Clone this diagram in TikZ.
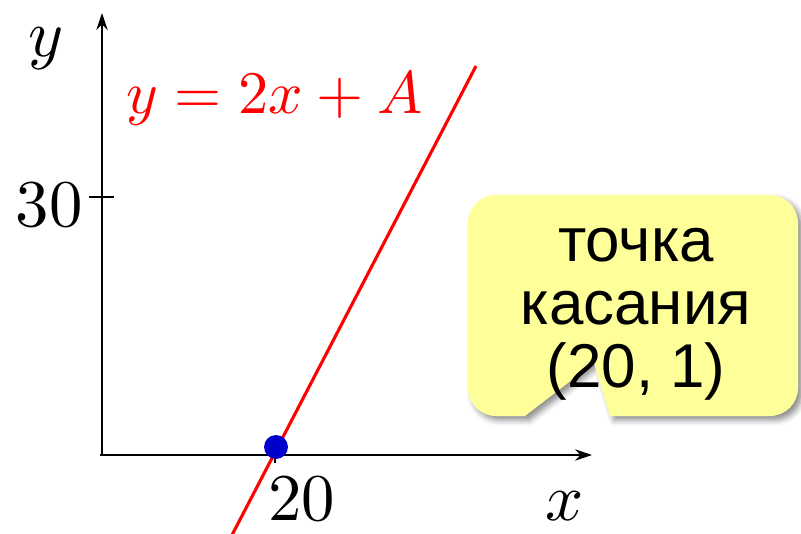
\documentclass[tikz,border=0pt]{standalone}
\usepackage{graphicx}
\usepackage{fontspec}
\newfontfamily\calloutfont{Liberation Sans}
\usetikzlibrary{arrows.meta,shadows.blur}
\definecolor{bubbleyellow}{RGB}{255,255,153}
\definecolor{dotblue}{RGB}{0,0,204}
\newcommand{\biglbl}[1]{\scalebox{4.75}{$#1$}}
\newcommand{\eqlbltext}[1]{\scalebox{4.3}{$#1$}}
\tikzset{
  axis/.style={line width=1.4pt,-{Stealth[length=12pt,width=8pt]}},
  tick/.style={line width=1.4pt},
  mathlbl/.style={inner sep=0pt},
  eqlbl/.style={inner sep=0pt,text=red},
  bubble/.style={fill=bubbleyellow,draw=none,
    blur shadow={shadow xshift=3pt,shadow yshift=-3pt,shadow blur radius=4pt,shadow opacity=45}},
  bubbletext/.style={inner sep=0pt,font=\calloutfont\fontsize{44}{48}\selectfont},
}
\begin{document}
\begin{tikzpicture}[x=0.025cm,y=0.025cm]
\useasboundingbox (0,0) rectangle (801,533);
% axes
\coordinate (o) at (102,78);
\coordinate (xstart) at (100,78);
\coordinate (xend) at (592,78);
\coordinate (ystart) at (102,78);
\coordinate (yend) at (102,520);
\draw[axis] (xstart) -- (xend);
\draw[axis] (ystart) -- (yend);
% ticks
\coordinate (yt1) at (89,336);
\coordinate (yt2) at (114,336);
\draw[tick] (yt1) -- (yt2);
\coordinate (xt1) at (275,78);
\coordinate (xt2) at (275,70);
\draw[tick] (xt1) -- (xt2);
% labels
\node[mathlbl,anchor=base east] (l30) at (83,306) {\biglbl{30}};
\node[mathlbl,anchor=base west] (l20) at (268,12) {\biglbl{20}};
\node[mathlbl] (ly) at (46,484) {\biglbl{y}};
\node[mathlbl] (lx) at (565,27) {\biglbl{x}};
% red line
\coordinate (r1) at (232,-2);
\coordinate (r2) at (476,467);
\draw[red,line width=2.2pt] (r1) -- (r2);
\node[eqlbl,anchor=base west] (eq) at (126,419) {\eqlbltext{y = 2x + A}};
% tangent point
\node[circle,fill=dotblue,minimum size=17pt,inner sep=0pt] (pt) at (276,86) {};
% callout
\path[bubble] (496,338) -- (770,338) arc(90:0:28) -- (798,145) arc(0:-90:28)
  -- (610,117) -- (594,170) -- (525,117) -- (496,117) arc(270:180:28)
  -- (468,310) arc(180:90:28) -- cycle;
\node[bubbletext,anchor=base] (t1) at (636,271) {точка};
\node[bubbletext,anchor=base] (t2) at (636,208) {касания};
\node[bubbletext,anchor=base] (t3) at (636,145) {(20, 1)};
\end{tikzpicture}
\end{document}
